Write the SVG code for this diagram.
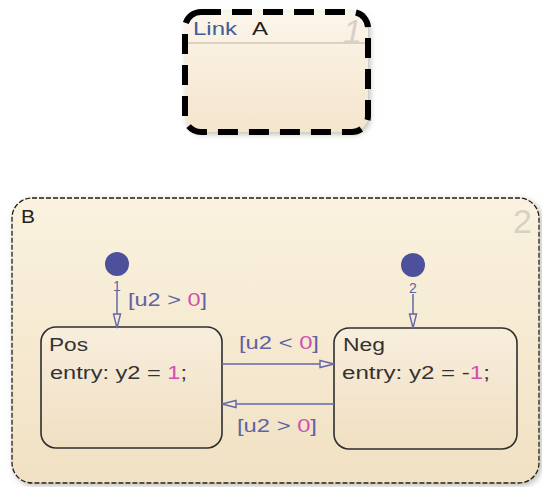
<svg xmlns="http://www.w3.org/2000/svg" width="542" height="487" viewBox="0 0 542 487">
  <defs>
    <linearGradient id="gA" x1="0" y1="0" x2="0" y2="1">
      <stop offset="0" stop-color="#fcf5ea"/>
      <stop offset="1" stop-color="#f4e5cc"/>
    </linearGradient>
    <linearGradient id="gB" x1="0" y1="0" x2="0" y2="1">
      <stop offset="0" stop-color="#faf2df"/>
      <stop offset="1" stop-color="#f1e1c3"/>
    </linearGradient>
    <linearGradient id="gS" x1="0" y1="0" x2="0" y2="1">
      <stop offset="0" stop-color="#f8eedd"/>
      <stop offset="1" stop-color="#f0dfc2"/>
    </linearGradient>
    <filter id="sh" x="-10%" y="-10%" width="125%" height="125%">
      <feGaussianBlur in="SourceAlpha" stdDeviation="3"/>
      <feOffset dx="2" dy="2" result="b"/>
      <feFlood flood-color="#8a8a7a" flood-opacity="0.6"/>
      <feComposite in2="b" operator="in"/>
      <feMerge><feMergeNode/><feMergeNode in="SourceGraphic"/></feMerge>
    </filter>
    <marker id="arr" viewBox="0 0 16 10" refX="15" refY="5" markerWidth="16" markerHeight="10" markerUnits="userSpaceOnUse" orient="auto">
      <path d="M1,1.5 L15,5 L1,8.5 Z" fill="#f6ead4" stroke="#6467a8" stroke-width="1.4"/>
    </marker>
  </defs>
  <style>
    text { font-family: "Liberation Sans", Arial, sans-serif; }
    .st { font-size: 18px; fill: #333333; }
    .lbl { font-size: 18px; fill: #5f62a3; }
    .num { fill: #d04fb0; }
    .tr { fill: none; stroke: #6467a8; stroke-width: 1.5; }
    .dot { fill: #4d519c; }
    .state { fill: url(#gS); stroke: #2e2e2e; stroke-width: 1.6; }
    .prio { font-size: 34px; fill: #d6d1c6; }
    .tn { font-size: 14px; fill: #5f62a3; }
  </style>

  <g id="A">
    <rect x="185" y="12" width="183" height="120" rx="16" fill="url(#gA)" filter="url(#sh)"/>
    <line x1="188" y1="43" x2="365" y2="43" stroke="#cfc6b6" stroke-width="1.5"/>
    <text class="prio" x="343" y="43" font-style="italic">1</text>
    <rect x="185" y="12" width="183" height="120" rx="16" fill="none" stroke="#000" stroke-width="6" stroke-dasharray="20 11"/>
    <text x="193" y="35" font-size="18" fill="#3d5f98" textLength="44" lengthAdjust="spacingAndGlyphs">Link</text>
    <text x="252" y="35" font-size="18" fill="#222" textLength="16" lengthAdjust="spacingAndGlyphs">A</text>
  </g>

  <g id="B">
    <rect x="12" y="198" width="527" height="285" rx="20" fill="url(#gB)" stroke="#1a1a1a" stroke-width="1.3" stroke-dasharray="5 2" filter="url(#sh)"/>
    <text x="21" y="223" font-size="18" fill="#222" textLength="14" lengthAdjust="spacingAndGlyphs">B</text>
    <text class="prio" x="513" y="233">2</text>
  </g>

  <g id="Pos">
    <rect class="state" x="41" y="327" width="181" height="121" rx="15"/>
    <text class="st" x="49" y="351" textLength="39" lengthAdjust="spacingAndGlyphs">Pos</text>
    <text class="st" x="50" y="379" textLength="137" lengthAdjust="spacingAndGlyphs">entry: y2 = <tspan class="num">1</tspan>;</text>
  </g>

  <g id="Neg">
    <rect class="state" x="334" y="328" width="183" height="121" rx="15"/>
    <text class="st" x="343" y="351" textLength="42" lengthAdjust="spacingAndGlyphs">Neg</text>
    <text class="st" x="342" y="379" textLength="148" lengthAdjust="spacingAndGlyphs">entry: y2 = -<tspan class="num">1</tspan>;</text>
  </g>

  <g id="init1">
    <circle class="dot" cx="117" cy="264" r="12"/>
  </g>
  <g id="init2">
    <circle class="dot" cx="413" cy="265" r="12"/>
  </g>

  <g id="connectors">
    <line class="tr" x1="117" y1="291" x2="117" y2="328" marker-end="url(#arr)"/>
    <text class="tn" x="113" y="291">1</text>
    <text class="lbl" x="128" y="306" textLength="79" lengthAdjust="spacingAndGlyphs">[u2 &gt; <tspan class="num">0</tspan>]</text>

    <line class="tr" x1="413" y1="294" x2="413" y2="328" marker-end="url(#arr)"/>
    <text class="tn" x="409" y="293">2</text>

    <line class="tr" x1="222" y1="364" x2="334" y2="364" marker-end="url(#arr)"/>
    <text class="lbl" x="239" y="349" textLength="80" lengthAdjust="spacingAndGlyphs">[u2 &lt; <tspan class="num">0</tspan>]</text>

    <line class="tr" x1="334" y1="404" x2="222" y2="404" marker-end="url(#arr)"/>
    <text class="lbl" x="237" y="432" textLength="80" lengthAdjust="spacingAndGlyphs">[u2 &gt; <tspan class="num">0</tspan>]</text>
  </g>
</svg>
